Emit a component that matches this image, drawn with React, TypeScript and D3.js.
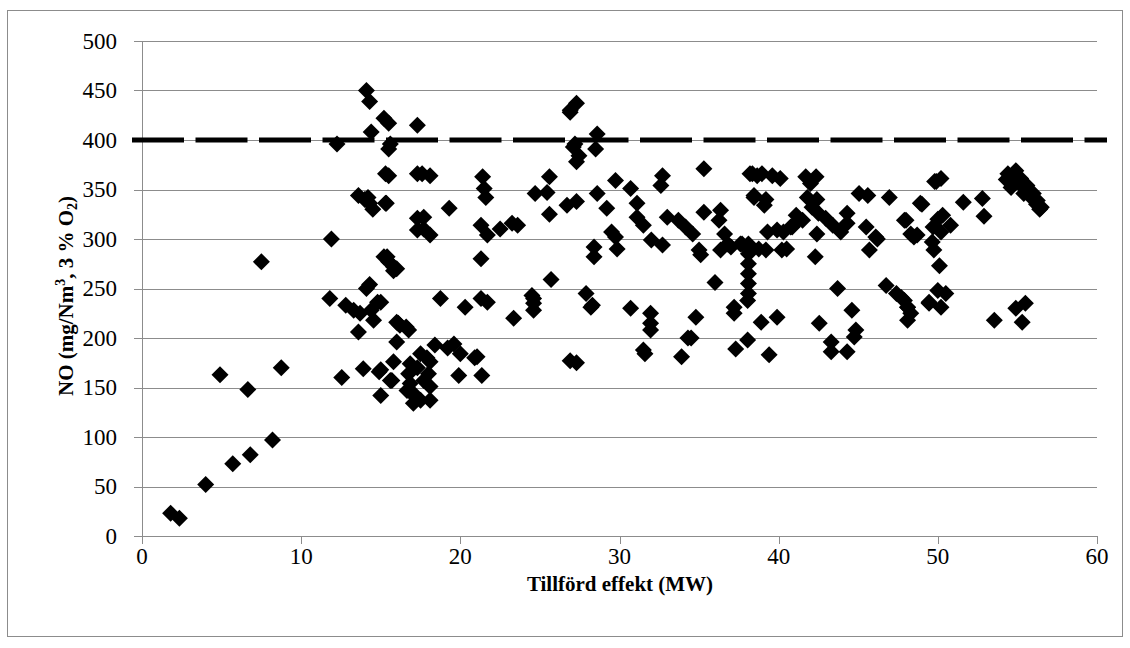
import React, { useRef, useEffect } from "react";
import * as d3 from "d3";

// Tillförd effekt (MW)
const effekt = [
  1.8, 2.35, 4.0, 5.7, 6.8, 8.2, 4.9, 6.65, 8.75, 7.5,
  14.1, 14.3, 15.2, 15.5, 14.4, 17.3, 12.25, 15.6, 15.5, 15.3, 15.5, 17.3,
  13.6, 14.0, 14.3, 14.5, 14.2, 15.35, 17.3, 17.3, 11.9,
  15.2, 15.5, 15.8, 16.0, 14.3, 14.1, 11.8, 12.8, 13.3, 13.7, 14.8, 14.4, 14.55, 16.1,
  13.6, 16.0, 16.2, 16.75, 12.55, 13.9, 14.9, 15.7, 15.8, 15.0,
  18.4, 19.6, 20.0, 21.05, 21.35, 19.9, 15.0, 15.6,
  16.85, 17.5, 18.1, 16.75, 16.85, 17.05, 17.05, 17.7, 18.0, 18.1, 18.1, 17.5, 16.65, 17.3, 17.9, 17.2,
  26.9, 27.3, 27.1, 27.3, 17.6, 18.1, 21.4, 25.6, 21.5, 21.6, 24.7, 25.45, 15.3, 19.3, 26.7, 27.3, 25.6,
  17.7, 17.7, 18.1, 21.3, 21.7, 22.5, 23.25, 23.6, 15.4, 15.8, 21.3, 25.7,
  15.0, 18.75, 20.3, 21.3, 21.7, 24.5, 24.6, 24.6, 23.35, 16.0, 16.6, 26.9, 27.2,
  27.45, 28.6, 28.5, 35.3, 38.2, 38.65, 32.7, 32.6, 29.75, 30.7, 31.1, 28.6, 29.2, 38.45,
  31.1, 31.5, 33.0, 33.7, 34.15, 34.6, 35.3, 36.35, 36.25, 29.5, 29.75, 32.0, 32.7,
  28.4, 28.4, 29.85, 35.0, 35.1, 36.6, 36.8, 37.7, 36.35, 37.0,
  38.1, 38.1, 38.1, 38.1, 38.1, 38.1, 38.05, 36.0, 27.9, 28.3, 28.2, 30.7,
  31.95, 31.95, 31.95, 31.5, 31.6, 34.8, 34.3, 33.9, 37.2, 37.2, 38.9, 39.9, 37.3, 38.05, 39.4,
  38.35, 38.95, 39.6, 40.1, 41.7, 42.35, 42.0, 49.8, 38.45, 39.2, 39.1, 45.05, 45.6, 46.95, 49.0,
  41.8, 42.4, 42.1, 42.5, 42.95, 43.4, 43.9, 41.1, 41.5, 40.85, 44.3, 44.3,
  39.3, 39.9, 40.3, 40.75, 45.5, 46.1, 47.9, 48.3, 48.7, 49.7, 42.4,
  37.6, 38.2, 38.75, 39.2, 40.2, 45.7, 42.3, 43.7, 46.75, 47.4, 47.9, 48.1, 48.3, 49.45,
  44.6, 42.55, 44.85, 43.3, 43.3, 44.3, 44.75, 34.5,
  49.9, 50.2, 54.4, 54.9, 55.2, 55.6, 56.0, 56.25, 56.5,
  54.3, 54.7, 55.0, 55.3, 55.5, 55.8, 56.0, 56.2, 56.4, 54.6, 55.4,
  48.9, 51.6, 52.8, 52.9, 48.0, 48.5, 50.0, 50.3, 50.8, 50.2, 49.65, 49.75, 50.1,
  47.7, 48.1, 48.1, 49.45, 50.0, 50.5, 50.2, 53.55, 54.9, 55.5, 55.3,
  20.9, 19.2, 26.9, 27.3, 24.6, 40.5, 41.3, 46.2,
];

// NO (mg/Nm3, 3 % O2)
const noHalt = [
  23, 18, 52, 73, 82, 97, 163, 148, 170, 277,
  450, 439, 422, 417, 408, 415, 396, 396, 391, 366, 364, 366,
  344, 340, 336, 330, 342, 336, 321, 309, 300,
  282, 277, 272, 270, 254, 250, 240, 233, 228, 225, 236, 228, 218, 215,
  206, 196, 213, 208, 160, 169, 166, 157, 176, 142,
  193, 194, 184, 181, 162, 162, 168, 157,
  174, 184, 176, 164, 154, 144, 134, 157, 164, 151, 137, 137, 147, 170, 180, 140,
  430, 437, 393, 378, 366, 364, 363, 363, 351, 342, 346, 347, 336, 331, 334, 338, 325,
  322, 310, 304, 314, 304, 310, 316, 314, 282, 268, 280, 259,
  236, 240, 231, 240, 236, 243, 235, 228, 220, 216, 211, 428, 396,
  384, 406, 391, 371, 366, 364, 364, 354, 359, 351, 336, 346, 331, 344,
  322, 314, 322, 319, 312, 305, 327, 329, 319, 307, 302, 299, 294,
  292, 282, 290, 289, 284, 305, 295, 295, 289, 292,
  295, 285, 275, 265, 255, 245, 238, 256, 245, 233, 231, 230,
  225, 215, 208, 188, 184, 221, 200, 181, 231, 225, 216, 221, 189, 198, 183,
  366, 366, 364, 361, 363, 363, 356, 358, 342, 340, 334, 346, 344, 342, 335,
  342, 340, 332, 326, 321, 314, 307, 324, 319, 312, 326, 316,
  307, 309, 307, 312, 312, 302, 319, 305, 304, 312, 305,
  295, 292, 290, 289, 289, 289, 282, 250, 253, 245, 238, 231, 225, 236,
  228, 215, 208, 196, 186, 186, 201, 200,
  358, 361, 366, 369, 361, 354, 346, 339, 332,
  360, 363, 358, 355, 350, 345, 340, 335, 330, 352, 346,
  336, 337, 341, 323, 319, 302, 320, 324, 314, 307, 297, 289, 273,
  241, 231, 218, 235, 248, 245, 231, 218, 230, 235, 216,
  180, 190, 177, 175, 240, 290, 320, 300,
];

const xTicks = [0, 10, 20, 30, 40, 50, 60];
const yTicks = [0, 50, 100, 150, 200, 250, 300, 350, 400, 450, 500];
const gransvarde = 400;

const App = () => {
  const ref = useRef<SVGSVGElement>(null);

  useEffect(() => {
    const width = 1130;
    const height = 648;
    const left = 142;
    const right = 1097;
    const top = 41;
    const bottom = 536;

    const svg = d3.select(ref.current);
    svg.selectAll("*").remove();

    const x = d3.scaleLinear().domain([0, 60]).range([left, right]);
    const y = d3.scaleLinear().domain([0, 500]).range([bottom, top]);
    const font = "'Liberation Serif', 'Times New Roman', Tinos, serif";

    svg
      .append("rect")
      .attr("x", 7.5)
      .attr("y", 10.5)
      .attr("width", width - 15)
      .attr("height", height - 22)
      .attr("fill", "white")
      .attr("stroke", "#8c8c8c")
      .attr("stroke-width", 1);

    // gridlines
    svg
      .selectAll(".grid")
      .data(yTicks)
      .enter()
      .append("line")
      .attr("class", "grid")
      .attr("x1", left)
      .attr("x2", right)
      .attr("y1", (d) => Math.round(y(d)) + 0.5)
      .attr("y2", (d) => Math.round(y(d)) + 0.5)
      .attr("stroke", "#8c8c8c")
      .attr("stroke-width", 1);

    // y axis
    svg
      .append("line")
      .attr("x1", left + 0.5)
      .attr("x2", left + 0.5)
      .attr("y1", top)
      .attr("y2", bottom)
      .attr("stroke", "#8c8c8c");
    svg
      .selectAll(".ytick")
      .data(yTicks)
      .enter()
      .append("line")
      .attr("class", "ytick")
      .attr("x1", left - 8)
      .attr("x2", left)
      .attr("y1", (d) => Math.round(y(d)) + 0.5)
      .attr("y2", (d) => Math.round(y(d)) + 0.5)
      .attr("stroke", "#8c8c8c");
    svg
      .selectAll(".ylabel")
      .data(yTicks)
      .enter()
      .append("text")
      .attr("class", "ylabel")
      .attr("x", 117)
      .attr("y", (d) => y(d))
      .attr("dy", "0.34em")
      .attr("text-anchor", "end")
      .style("font-family", font)
      .style("font-size", "23px")
      .attr("fill", "black")
      .text((d) => d);

    // x axis ticks
    svg
      .selectAll(".xtick")
      .data(xTicks)
      .enter()
      .append("line")
      .attr("class", "xtick")
      .attr("x1", (d) => Math.round(x(d)) + 0.5)
      .attr("x2", (d) => Math.round(x(d)) + 0.5)
      .attr("y1", bottom)
      .attr("y2", bottom + 8)
      .attr("stroke", "#8c8c8c");
    svg
      .selectAll(".xlabel")
      .data(xTicks)
      .enter()
      .append("text")
      .attr("class", "xlabel")
      .attr("x", (d) => x(d))
      .attr("y", 564)
      .attr("text-anchor", "middle")
      .style("font-family", font)
      .style("font-size", "23px")
      .attr("fill", "black")
      .text((d) => d);

    // limit line 400
    svg
      .append("line")
      .attr("x1", x(0) - 10)
      .attr("x2", x(60) + 10)
      .attr("y1", y(gransvarde))
      .attr("y2", y(gransvarde))
      .attr("stroke", "black")
      .attr("stroke-width", 5)
      .attr("stroke-dasharray", "52 11.5");

    // points
    const points = effekt.map((e, i) => ({ x: e, y: noHalt[i] }));
    const s = 8.5;
    svg
      .selectAll(".pt")
      .data(points)
      .enter()
      .append("path")
      .attr("class", "pt")
      .attr("transform", (d) => `translate(${x(d.x)},${y(d.y)})`)
      .attr("d", `M0,${-s}L${s},0L0,${s}L${-s},0Z`)
      .attr("fill", "black");

    // axis titles
    svg
      .append("text")
      .attr("x", 620)
      .attr("y", 591)
      .attr("text-anchor", "middle")
      .style("font-family", font)
      .style("font-size", "21px")
      .style("font-weight", "bold")
      .attr("fill", "black")
      .text("Tillförd effekt (MW)");

    const yt = svg
      .append("text")
      .attr("transform", `translate(73,296) rotate(-90)`)
      .attr("text-anchor", "middle")
      .style("font-family", font)
      .style("font-size", "21px")
      .style("font-weight", "bold")
      .attr("fill", "black");
    yt.append("tspan").text("NO (mg/Nm");
    yt.append("tspan").style("font-size", "14px").attr("dy", "-8").text("3");
    yt.append("tspan").attr("dy", "8").text(", 3 % O");
    yt.append("tspan").style("font-size", "14px").attr("dy", "4").text("2");
    yt.append("tspan").attr("dy", "-4").text(")");
  }, []);

  return (
    <svg
      ref={ref}
      width={1130}
      height={648}
      style={{ position: "absolute", left: 0, top: 0 }}
    />
  );
};

export default App;
